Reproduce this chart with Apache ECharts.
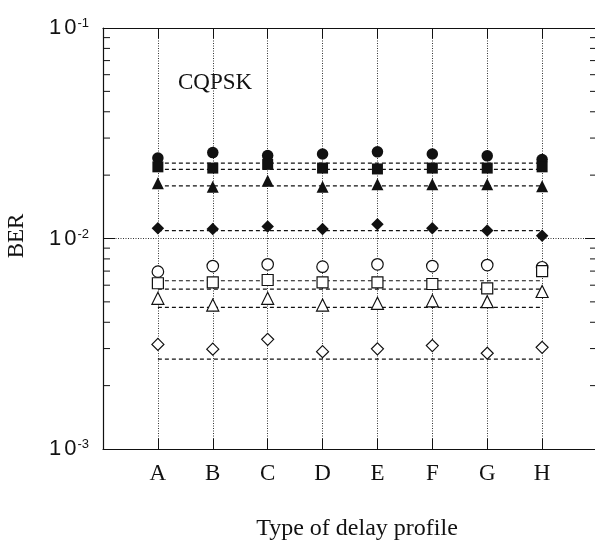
<!DOCTYPE html>
<html>
<head>
<meta charset="utf-8">
<script src="https://cdn.jsdelivr.net/npm/echarts@6/dist/echarts.min.js"></script>
<style>
  html, body { margin: 0; padding: 0; background: #fff; }
  #chart { width: 595px; height: 541px; }
</style>
</head>
<body>
<div id="chart"></div>
<script>
// Delay profile types (padded with blank slots so the frame spans one step either side)
const profiles = ['A', 'B', 'C', 'D', 'E', 'F', 'G', 'H'];
const axisSlots = [''].concat(profiles, [' ']);

// BER per delay profile, filled markers
const berFilledCircle   = [0.0241, 0.0256, 0.0248, 0.0252, 0.0258, 0.0252, 0.0247, 0.0237];
const berFilledSquare   = [0.0219, 0.0216, 0.0225, 0.0216, 0.0214, 0.0216, 0.0216, 0.0219];
const berFilledTriangle = [0.0183, 0.0176, 0.0188, 0.0176, 0.0181, 0.0181, 0.0181, 0.0177];
const berFilledDiamond  = [0.0112, 0.0111, 0.0114, 0.0111, 0.0117, 0.0112, 0.0109, 0.0103];

// BER per delay profile, open markers
const berOpenCircle   = [0.00696, 0.0074, 0.00754, 0.00735, 0.00754, 0.0074, 0.00748, 0.0073];
const berOpenSquare   = [0.00613, 0.00619, 0.00635, 0.00619, 0.00619, 0.00608, 0.0058, 0.0070];
const berOpenTriangle = [0.0052, 0.00483, 0.0052, 0.00483, 0.00492, 0.00506, 0.00501, 0.0056];
const berOpenDiamond  = [0.00314, 0.00298, 0.00332, 0.0029, 0.00299, 0.0031, 0.00285, 0.00304];

// Dashed reference levels drawn from profile A to profile H
const levelsFilled = [0.0228, 0.0213, 0.0178, 0.0109];
const levelsOpen   = [0.0063, 0.00575, 0.00471, 0.00267];

// Log axis range and minor tick positions
const berMin = 0.001;
const berMax = 0.1;
const minorTicks = [0.002, 0.003, 0.004, 0.005, 0.006, 0.007, 0.008, 0.009,
                    0.02, 0.03, 0.04, 0.05, 0.06, 0.07, 0.08, 0.09];

const INK = '#111';
const SERIF = '"Liberation Serif", "DejaVu Serif", serif';
const SANS = '"Liberation Sans", Arial, sans-serif';

function points(values) {
  return profiles.map((p, i) => [p, values[i]]);
}

function markerSeries(values, symbol, filled, size) {
  return {
    type: 'scatter',
    data: points(values),
    symbol: symbol,
    symbolSize: size,
    z: 5,
    silent: true,
    itemStyle: filled
      ? { color: INK, borderWidth: 0, opacity: 1 }
      : { color: '#fff', borderColor: INK, borderWidth: 1.2, opacity: 1 }
  };
}

function levelSeries(v) {
  return {
    type: 'line',
    data: [[profiles[0], v], [profiles[profiles.length - 1], v]],
    showSymbol: false,
    silent: true,
    z: 3,
    lineStyle: { color: INK, width: 1.2, type: [4, 3] }
  };
}

const chart = echarts.init(document.getElementById('chart'), null, { renderer: 'canvas' });

const logAxisCommon = {
  type: 'log',
  logBase: 10,
  min: berMin,
  max: berMax,
  axisLine: { show: true, lineStyle: { color: INK, width: 1.2 } },
  axisTick: { show: true, inside: true, length: 12, lineStyle: { color: INK, width: 1 } }
};

const series = [
  levelSeries(levelsFilled[0]), levelSeries(levelsFilled[1]),
  levelSeries(levelsFilled[2]), levelSeries(levelsFilled[3]),
  levelSeries(levelsOpen[0]), levelSeries(levelsOpen[1]),
  levelSeries(levelsOpen[2]), levelSeries(levelsOpen[3]),
  markerSeries(berFilledCircle, 'circle', true, 11.5),
  markerSeries(berFilledSquare, 'rect', true, 11),
  markerSeries(berFilledTriangle, 'triangle', true, 12),
  markerSeries(berFilledDiamond, 'diamond', true, 12.5),
  markerSeries(berOpenCircle, 'circle', false, 11.5),
  markerSeries(berOpenSquare, 'rect', false, 11),
  markerSeries(berOpenTriangle, 'triangle', false, 12),
  markerSeries(berOpenDiamond, 'diamond', false, 12),
  {
    // minor log ticks on both vertical frame edges
    type: 'custom',
    silent: true,
    z: 4,
    data: minorTicks.map(v => [0, v]),
    renderItem: function (params, api) {
      const v = api.value(1);
      const l = api.coord([0, v]);
      const r = api.coord([axisSlots.length - 1, v]);
      const style = { stroke: INK, lineWidth: 1 };
      return {
        type: 'group',
        children: [
          { type: 'line', shape: { x1: l[0], y1: l[1], x2: l[0] + 7, y2: l[1] }, style: style },
          { type: 'line', shape: { x1: r[0] - 7, y1: r[1], x2: r[0], y2: r[1] }, style: style }
        ]
      };
    }
  }
];

chart.setOption({
  animation: false,
  backgroundColor: '#fff',
  grid: { left: 103, top: 28, width: 494, bottom: 92, containLabel: false, outerBoundsMode: 'none' },
  xAxis: [
    {
      type: 'category',
      data: axisSlots,
      boundaryGap: false,
      position: 'bottom',
      axisLine: { show: true, lineStyle: { color: INK, width: 1.2 } },
      axisTick: { show: true, inside: true, length: 10, interval: 0, lineStyle: { color: INK } },
      axisLabel: { interval: 0, margin: 13, color: INK, fontFamily: SERIF, fontSize: 23 },
      splitLine: { show: true, interval: 0, lineStyle: { color: '#333', width: 1, type: [1, 1.5] } }
    },
    {
      type: 'category',
      data: axisSlots,
      boundaryGap: false,
      position: 'top',
      axisLine: { show: true, lineStyle: { color: INK, width: 1.2 } },
      axisTick: { show: true, inside: true, length: 10, interval: 0, lineStyle: { color: INK } },
      axisLabel: { show: false },
      splitLine: { show: false }
    }
  ],
  yAxis: [
    Object.assign({}, logAxisCommon, {
      position: 'left',
      splitLine: { show: true, lineStyle: { color: '#333', width: 1, type: [1, 1.5] } },
      axisLabel: {
        margin: 14,
        formatter: function (v) {
          const e = Math.round(Math.log10(v));
          return '{a|1}{b|0}{s|' + e + '}';
        },
        rich: {
          a: { fontFamily: SANS, fontSize: 22, color: INK, padding: [0, 3, 0, 0] },
          b: { fontFamily: SANS, fontSize: 22, color: INK },
          s: { fontFamily: SANS, fontSize: 13, color: INK, verticalAlign: 'top', padding: [0, 0, 0, 1] }
        }
      }
    }),
    Object.assign({}, logAxisCommon, {
      position: 'right',
      axisLabel: { show: false },
      splitLine: { show: false }
    })
  ],
  graphic: [
    {
      type: 'text',
      x: 17, y: 236,
      rotation: Math.PI / 2,
      style: { text: 'BER', fill: INK, font: '23px ' + SERIF, align: 'center', verticalAlign: 'middle' }
    },
    {
      type: 'text',
      x: 357, y: 529,
      style: { text: 'Type of delay profile', fill: INK, font: '24px ' + SERIF, align: 'center', verticalAlign: 'middle' }
    },
    {
      type: 'text',
      x: 178, y: 83,
      style: { text: 'CQPSK', fill: INK, font: '23px ' + SERIF, align: 'left', verticalAlign: 'middle' }
    }
  ],
  series: series
});
</script>
</body>
</html>
